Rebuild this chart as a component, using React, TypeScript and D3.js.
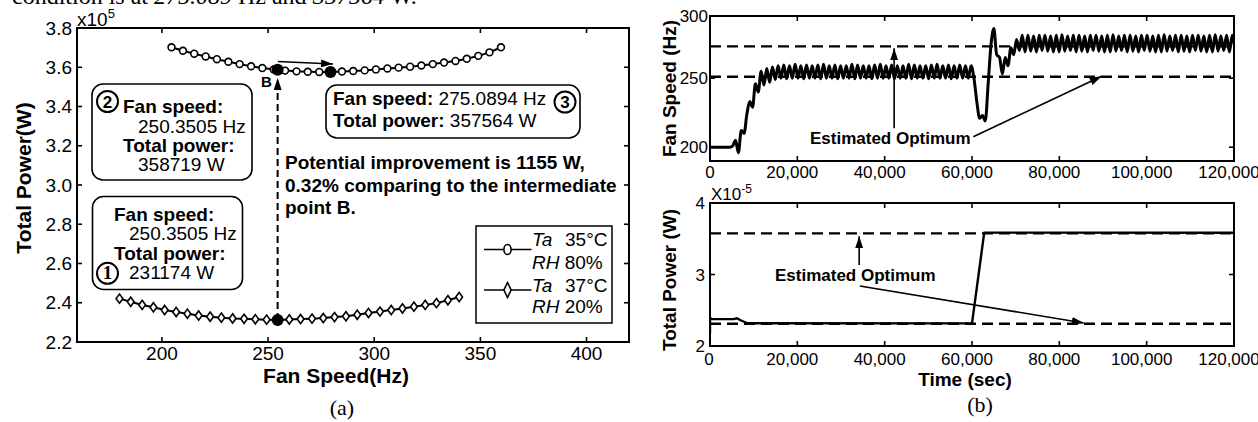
import * as d3 from "d3";

// ---- (a) total power (x10^5 W) against fan speed (Hz)
const humidSpeeds = [204.5, 209.9, 215.2, 220.6, 225.9, 231.3, 236.6, 242.0, 247.3, 252.7, 258.0, 263.4, 268.7, 274.1, 279.4,
  284.8, 290.1, 295.5, 300.8, 306.2, 311.5, 316.9, 322.2, 327.6, 332.9, 338.3, 343.6, 349.0, 354.3, 359.7];
const humidPower = [3.702, 3.684, 3.669, 3.655, 3.641, 3.628, 3.616, 3.605, 3.596, 3.589, 3.583, 3.579, 3.577, 3.576, 3.5756,
  3.578, 3.581, 3.584, 3.589, 3.594, 3.598, 3.603, 3.609, 3.616, 3.624, 3.632, 3.643, 3.658, 3.676, 3.702];
const drySpeeds = [180.0, 185.3, 190.7, 196.0, 201.3, 206.7, 212.0, 217.3, 222.7, 228.0, 233.3, 238.7, 244.0, 249.3, 254.7, 260.0,
  265.3, 270.7, 276.0, 281.3, 286.7, 292.0, 297.3, 302.7, 308.0, 313.3, 318.7, 324.0, 329.3, 334.7, 340.0];
const dryPower = [2.421, 2.405, 2.389, 2.377, 2.363, 2.353, 2.344, 2.335, 2.329, 2.324, 2.320, 2.318, 2.316, 2.314, 2.3117, 2.315,
  2.317, 2.319, 2.322, 2.327, 2.331, 2.339, 2.348, 2.355, 2.363, 2.371, 2.380, 2.389, 2.398, 2.413, 2.429];
// point 1, point B, point 3
const pickedSpeeds = [254.5, 254.5, 279.4];
const pickedPower = [2.3117, 3.5872, 3.5756];
const speedTicksA = [200, 250, 300, 350, 400];
const powerTicksA = [2.2, 2.4, 2.6, 2.8, 3.0, 3.2, 3.4, 3.6, 3.8];

// ---- (b) time series
const fanSampleStep = 650; // seconds between samples
const fanSpeed = [
  200, 200, 200, 200, 200, 200, 200, 200,
  201, 205, 196, 212, 210, 224, 233, 229, 246, 240, 255, 245, 257, 247, 258, 249,
  259, 250, 259.5, 249.5, 259, 250, 260, 250, 259, 249.5, 259.5, 250, 259, 250, 259.5, 249.5, 260, 250, 259, 250,
  259.5, 249.5, 259, 250, 259, 250, 260, 249.5, 259.5, 250, 259, 250, 259, 249.5, 259.5, 250, 260, 250, 259, 250,
  259.5, 249.5, 259, 250, 259, 250, 260, 249.5, 259.5, 250, 259, 250, 259, 249.5, 259.5, 250, 260, 250, 259, 250,
  259.5, 249.5, 259, 250, 259.5, 250, 259, 250, 259, 250,
  233, 221, 223, 219, 246, 274, 286, 267, 265, 253, 265, 259, 272, 267, 278, 270, 281,
  269, 281, 269.5, 280.5, 269, 281, 270, 281, 269.5, 280.5, 269, 281, 269, 281.5, 269.5, 280.5, 270, 281, 269, 281,
  269.5, 280.5, 269, 281, 270, 281, 269.5, 280.5, 269, 281, 269, 281.5, 269.5, 280.5, 270, 281, 269, 281, 269.5, 280.5,
  269, 281, 270, 281, 269.5, 280.5, 269, 281, 269, 281.5, 269.5, 280.5, 270, 281, 269, 281, 269.5, 280.5, 269, 281,
  270, 281, 269.5, 280.5, 269, 281, 269, 281.5, 269.5, 280.5, 270, 281, 269, 281, 270,
];
const fanOptimum = [273, 251];
const powerTimes = [0, 0, 400, 5400, 6200, 7000, 8600, 60000, 62800, 120000];
const powerValues = [2.18, 2.39, 2.376, 2.376, 2.388, 2.36, 2.318, 2.316, 3.586, 3.584];
const powerOptimum = [3.5756, 2.3117];
const timeTicks = [0, 20000, 40000, 60000, 80000, 100000, 120000];
const fanTicks = [200, 250, 300];
const powerTicks = [2, 3, 4];

const SANS = "'Liberation Sans', Arial, Helvetica, sans-serif";
const SERIF = "'Liberation Serif', 'Times New Roman', serif";

const xA = d3.scaleLinear().domain([160, 420]).range([77, 629]);
const yA = d3.scaleLinear().domain([2.2, 3.8]).range([342, 28]);
const xT = d3.scaleLinear().domain([0, 120000]).range([710, 1234]);
const yF = d3.scaleLinear().domain([190, 295]).range([161, 16]).clamp(true);
const yP = d3.scaleLinear().domain([2, 4]).range([346, 203]);

const fmtTime = d3.format(",");

type Pt = [number, number];

function Frame({ x0, x1, y0, y1, xt, yt }: { x0: number; x1: number; y0: number; y1: number; xt: number[]; yt: number[] }) {
  const t = 5;
  return (
    <g stroke="#000" strokeWidth={1.6} fill="none">
      {xt.map((x, i) => (
        <g key={"x" + i}>
          <line x1={x} x2={x} y1={y1} y2={y1 - t} />
          <line x1={x} x2={x} y1={y0} y2={y0 + t} />
        </g>
      ))}
      {yt.map((y, i) => (
        <g key={"y" + i}>
          <line x1={x0} x2={x0 + t} y1={y} y2={y} />
          <line x1={x1} x2={x1 - t} y1={y} y2={y} />
        </g>
      ))}
      <rect x={x0} y={y0} width={x1 - x0} height={y1 - y0} strokeWidth={2} />
    </g>
  );
}

function Circled({ cx, cy, n, serif }: { cx: number; cy: number; n: string; serif?: boolean }) {
  return (
    <g>
      <circle cx={cx} cy={cy} r={10.5} fill="#fff" stroke="#000" strokeWidth={2} />
      <text x={cx} y={cy + 6} textAnchor="middle" fontSize={serif ? 19 : 17} fontWeight="bold"
        fontFamily={serif ? SERIF : SANS}>{n}</text>
    </g>
  );
}

export default function App() {
  const lineA = d3.line<Pt>().x(d => xA(d[0])).y(d => yA(d[1]));
  const humid: Pt[] = humidSpeeds.map((s, i) => [s, humidPower[i]]);
  const dry: Pt[] = drySpeeds.map((s, i) => [s, dryPower[i]]);

  const fanPts: Pt[] = fanSpeed.map((v, i) => [i * fanSampleStep, v]);
  const fanLine = d3.line<Pt>().x(d => xT(d[0])).y(d => yF(d[1])).curve(d3.curveMonotoneX);
  const powLine = d3.line<Pt>().x(d => xT(d[0])).y(d => yP(d[1]));
  const powPts: Pt[] = powerTimes.map((t, i) => [t, powerValues[i]]);

  const diamond = "M0,-4.6L3.4,0L0,4.6L-3.4,0Z";
  const bx = xA(pickedSpeeds[1]);

  return (
    <svg width={1258} height={422} style={{ position: "absolute", left: 0, top: 0, background: "#fff" }}
      fontFamily={SANS}>
      <defs>
        <marker id="ah" viewBox="0 0 12 8" refX={12} refY={4} markerWidth={12} markerHeight={8}
          markerUnits="userSpaceOnUse" orient="auto">
          <path d="M0,0L12,4L0,8Z" fill="#000" />
        </marker>
        <clipPath id="clipTop"><rect x={710} y={16} width={524} height={145} /></clipPath>
        <clipPath id="clipBot"><rect x={710} y={203} width={524} height={143} /></clipPath>
      </defs>

      {/* caption remnant of the page */}
      <text x={12} y={4} fontFamily={SERIF} fontSize={24}>
        condition is at <tspan fontStyle="italic">275.089</tspan> Hz and <tspan fontStyle="italic">357564</tspan> W.
      </text>

      {/* ================= panel (a) ================= */}
      <Frame x0={77} x1={629} y0={28} y1={342} xt={speedTicksA.map(xA)} yt={powerTicksA.map(yA)} />
      <g fontSize={19}>
        {speedTicksA.map(s => (
          <text key={s} x={xA(s)} y={359.5} textAnchor="middle">{s}</text>
        ))}
        {powerTicksA.map(p => (
          <text key={p} x={72} y={yA(p) + 6.5} textAnchor="end">{p.toFixed(1)}</text>
        ))}
        <text x={77} y={25.5}>x10<tspan fontSize={13} dy={-8}>5</tspan></text>
      </g>
      <text x={336} y={383} textAnchor="middle" fontSize={21} fontWeight="bold">Fan Speed(Hz)</text>
      <text transform="translate(31,178) rotate(-90)" textAnchor="middle" fontSize={21} fontWeight="bold">Total Power(W)</text>
      <text x={342} y={415} textAnchor="middle" fontFamily={SERIF} fontSize={22}>(a)</text>

      <path d={lineA(humid) ?? ""} fill="none" stroke="#000" strokeWidth={2} />
      <path d={lineA(dry) ?? ""} fill="none" stroke="#000" strokeWidth={2} />
      {humid.map((d, i) => (
        <circle key={i} cx={xA(d[0])} cy={yA(d[1])} r={3.4} fill="#fff" stroke="#000" strokeWidth={1.6} />
      ))}
      {dry.map((d, i) => (
        <path key={i} d={diamond} transform={`translate(${xA(d[0])},${yA(d[1])})`} fill="#fff" stroke="#000" strokeWidth={1.6} />
      ))}

      {/* dashed link 1 -> B and arrow B -> 3 */}
      <line x1={bx} x2={bx} y1={yA(pickedPower[0])} y2={yA(3.545)} stroke="#000" strokeWidth={2}
        strokeDasharray="7,4" markerEnd="url(#ah)" />
      <line x1={xA(254.6)} y1={yA(3.629)} x2={xA(280.6)} y2={yA(3.617)} stroke="#000" strokeWidth={1.5}
        markerEnd="url(#ah)" />
      {pickedSpeeds.map((s, i) => (
        <circle key={i} cx={xA(s)} cy={yA(pickedPower[i])} r={6} fill="#000" />
      ))}
      <text x={261} y={87} fontSize={15} fontWeight="bold">B</text>

      {/* box 2 */}
      <rect x={92} y={84} width={160} height={96} rx={11} fill="#fff" stroke="#000" strokeWidth={1.6} />
      <Circled cx={107.5} cy={101.5} n="2" />
      <g fontSize={19}>
        <text x={123} y={113} fontWeight="bold">Fan speed:</text>
        <text x={138} y={132.5}>250.3505 Hz</text>
        <text x={123} y={151.5} fontWeight="bold">Total power:</text>
        <text x={138} y={171}>358719 W</text>
      </g>

      {/* box 1 */}
      <rect x={92.5} y={196.5} width={150} height={93} rx={11} fill="#fff" stroke="#000" strokeWidth={1.6} />
      <g fontSize={19}>
        <text x={114} y={220.5} fontWeight="bold">Fan speed:</text>
        <text x={129} y={240}>250.3505 Hz</text>
        <text x={114} y={259.5} fontWeight="bold">Total power:</text>
        <text x={129} y={279}>231174 W</text>
      </g>
      <Circled cx={107.5} cy={273.3} n="1" serif />

      {/* box 3 */}
      <rect x={326} y={85} width={254} height={53} rx={11} fill="#fff" stroke="#000" strokeWidth={1.6} />
      <g fontSize={19}>
        <text x={333} y={105}><tspan fontWeight="bold">Fan speed:</tspan> 275.0894 Hz</text>
        <text x={333} y={126.5}><tspan fontWeight="bold">Total power:</tspan> 357564 W</text>
      </g>
      <Circled cx={565} cy={102} n="3" />

      <g fontSize={19} fontWeight="bold">
        <text x={285} y={169}>Potential improvement is 1155 W,</text>
        <text x={285} y={192}>0.32% comparing to the intermediate</text>
        <text x={285} y={214}>point B.</text>
      </g>

      {/* legend */}
      <rect x={476} y={226} width={136} height={97} fill="#fff" stroke="#000" strokeWidth={1.5} />
      <line x1={484} x2={531.5} y1={249.5} y2={249.5} stroke="#000" strokeWidth={1.6} />
      <ellipse cx={507.5} cy={249.5} rx={3.6} ry={5} fill="#fff" stroke="#000" strokeWidth={1.6} />
      <line x1={484} x2={531.5} y1={290} y2={290} stroke="#000" strokeWidth={1.6} />
      <path d="M0,-7.5L3.6,0L0,7.5L-3.6,0Z" transform="translate(507.5,290)" fill="#fff" stroke="#000" strokeWidth={1.6} />
      <g fontSize={19}>
        <text x={532} y={246}><tspan fontStyle="italic">Ta</tspan></text>
        <text x={565} y={246}>35°C</text>
        <text x={532} y={269}><tspan fontStyle="italic">RH</tspan> 80%</text>
        <text x={532} y={291.5}><tspan fontStyle="italic">Ta</tspan></text>
        <text x={565} y={291.5}>37°C</text>
        <text x={532} y={313}><tspan fontStyle="italic">RH</tspan> 20%</text>
      </g>

      {/* ================= panel (b) top: fan speed ================= */}
      <g clipPath="url(#clipTop)">
        {fanOptimum.map(v => (
          <line key={v} x1={xT(0)} x2={xT(120000)} y1={yF(v)} y2={yF(v)} stroke="#000" strokeWidth={2.4} strokeDasharray="11,6" />
        ))}
        <path d={fanLine(fanPts) ?? ""} fill="none" stroke="#000" strokeWidth={3} strokeLinejoin="round" />
      </g>
      <Frame x0={710} x1={1234} y0={16} y1={161} xt={timeTicks.map(xT)} yt={fanTicks.map(yF)} />
      <g fontSize={17}>
        {timeTicks.map(t => (
          <text key={t} x={xT(t) - (t === 0 ? 0 : 5)} y={178} textAnchor="middle">{fmtTime(t)}</text>
        ))}
        {fanTicks.map(v => (
          <text key={v} x={708} y={yF(v) + 6} textAnchor="end">{v}</text>
        ))}
      </g>
      <text transform="translate(676,88.5) rotate(-90)" textAnchor="middle" fontSize={19} fontWeight="bold">Fan Speed (Hz)</text>
      <line x1={xT(42170)} y1={yF(213.7)} x2={xT(42170)} y2={yF(271.6)} stroke="#000" strokeWidth={1.6} markerEnd="url(#ah)" />
      <line x1={xT(60300)} y1={yF(207.6)} x2={xT(89700)} y2={yF(251.3)} stroke="#000" strokeWidth={1.6} markerEnd="url(#ah)" />
      <text x={810} y={143.5} fontSize={17} fontWeight="bold">Estimated Optimum</text>

      {/* ================= panel (b) bottom: total power ================= */}
      <g clipPath="url(#clipBot)">
        {powerOptimum.map(v => (
          <line key={v} x1={xT(0)} x2={xT(120000)} y1={yP(v)} y2={yP(v)} stroke="#000" strokeWidth={2.4} strokeDasharray="11,6" />
        ))}
        <path d={powLine(powPts) ?? ""} fill="none" stroke="#000" strokeWidth={2.4} strokeLinejoin="round" />
      </g>
      <Frame x0={710} x1={1234} y0={203} y1={346} xt={timeTicks.map(xT)} yt={powerTicks.map(yP)} />
      <g fontSize={17}>
        {timeTicks.map(t => (
          <text key={t} x={xT(t) - (t === 0 ? 1 : 5)} y={365} textAnchor="middle">{fmtTime(t)}</text>
        ))}
        {powerTicks.map(v => (
          <text key={v} x={705} y={yP(v) + 6} textAnchor="end">{v}</text>
        ))}
        <text x={711} y={199.5}>X10<tspan fontSize={12} dy={-7}>-5</tspan></text>
      </g>
      <text transform="translate(676,280) rotate(-90)" textAnchor="middle" fontSize={19} fontWeight="bold">Total Power (W)</text>
      <text x={965} y={386} textAnchor="middle" fontSize={19} fontWeight="bold">Time (sec)</text>
      <line x1={xT(34160)} y1={yP(3.133)} x2={xT(34160)} y2={yP(3.535)} stroke="#000" strokeWidth={1.6} markerEnd="url(#ah)" />
      <line x1={xT(34300)} y1={yP(2.84)} x2={xT(85600)} y2={yP(2.322)} stroke="#000" strokeWidth={1.6} markerEnd="url(#ah)" />
      <text x={775} y={281} fontSize={17} fontWeight="bold">Estimated Optimum</text>
      <text x={980} y={412} textAnchor="middle" fontFamily={SERIF} fontSize={22}>(b)</text>
    </svg>
  );
}
